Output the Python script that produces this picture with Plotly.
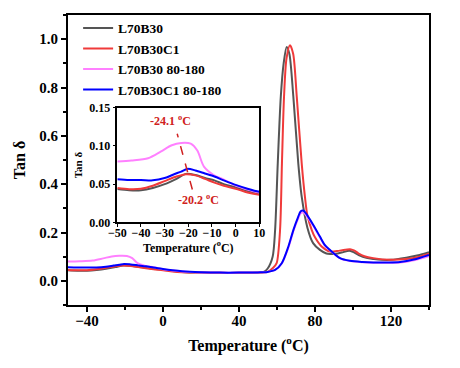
import plotly.graph_objects as go

# ---- data ----
series_names = ["L70B30", "L70B30C1", "L70B30 80-180", "L70B30C1 80-180"]
series_colors = ["#555555", "#f03a3a", "#ff80ff", "#0000ff"]

t_gray = [-50, -45, -40, -35, -30, -25, -21, -17, -13, -9, -5, 0, 5, 10, 20, 30, 40, 50, 53, 55,
          57.7, 59, 60.4, 62, 63.5, 65.1, 66.5, 68.6, 71.2, 73, 76, 79, 82.6, 86, 88, 91, 94, 98,
          100, 103, 107, 111, 115, 120, 128, 135, 140]
tan_gray = [0.0435, 0.042, 0.042, 0.045, 0.05, 0.057, 0.0635, 0.062, 0.058, 0.055, 0.050, 0.046,
            0.041, 0.037, 0.034, 0.033, 0.033, 0.034, 0.037, 0.05, 0.10, 0.21, 0.486, 0.762, 0.9,
            0.968, 0.94, 0.762, 0.486, 0.348, 0.22, 0.156, 0.128, 0.113, 0.111, 0.112, 0.117,
            0.125, 0.12, 0.107, 0.095, 0.09, 0.087, 0.087, 0.096, 0.107, 0.118]

t_red = [-50, -45, -40, -35, -30, -25, -21, -17, -13, -9, -5, 0, 5, 10, 20, 30, 40, 50, 55, 58,
         59.8, 61.6, 62.6, 63.7, 65, 66.8, 68.5, 70.4, 73, 74.7, 76, 78.3, 80, 83.5, 87.9, 93,
         98.4, 100.5, 102.8, 106, 110.7, 119.5, 128, 135, 140]
tan_red = [0.045, 0.0435, 0.044, 0.048, 0.054, 0.060, 0.063, 0.0615, 0.057, 0.052, 0.048, 0.044,
           0.039, 0.036, 0.034, 0.033, 0.033, 0.034, 0.037, 0.054, 0.073, 0.21, 0.486, 0.762,
           0.92, 0.975, 0.94, 0.762, 0.486, 0.348, 0.27, 0.21, 0.18, 0.142, 0.121, 0.125, 0.131,
           0.126, 0.114, 0.102, 0.094, 0.087, 0.09, 0.1, 0.112]

t_pink = [-50, -44, -37, -31.5, -27, -23, -19, -16.2, -13.4, -9.3, -5, 0, 5, 10, 20, 30, 40, 50,
          55, 59, 62.5, 66, 68.6, 71, 72.5, 74, 75.6, 79.1, 82.6, 85, 87.9, 93.2, 98.4, 105, 110.7,
          118, 124.8, 132, 140]
tan_pink = [0.0796, 0.081, 0.084, 0.093, 0.101, 0.104, 0.103, 0.094, 0.073, 0.062, 0.056, 0.048,
            0.043, 0.039, 0.035, 0.034, 0.034, 0.035, 0.037, 0.045, 0.072, 0.138, 0.205, 0.255,
            0.28, 0.282, 0.268, 0.228, 0.18, 0.148, 0.126, 0.093, 0.082, 0.077, 0.075, 0.075,
            0.076, 0.085, 0.102]

t_blue = [-50, -45, -40, -35, -30, -26, -23, -20.5, -17, -13, -9, -5, 0, 5, 10, 20, 30, 40, 50,
          55, 59, 62.5, 66, 68.6, 71, 72.5, 74, 75.6, 79.1, 82.6, 85, 87.9, 93.2, 98.4, 105, 110.7,
          118, 124.8, 132, 140]
tan_blue = [0.0565, 0.0555, 0.0555, 0.055, 0.058, 0.063, 0.0665, 0.070, 0.068, 0.064, 0.060,
            0.055, 0.049, 0.044, 0.040, 0.036, 0.034, 0.034, 0.035, 0.037, 0.045, 0.073, 0.142,
            0.21, 0.262, 0.288, 0.29, 0.275, 0.231, 0.183, 0.15, 0.128, 0.094, 0.083, 0.078,
            0.076, 0.076, 0.078, 0.088, 0.107]

series_t = [t_gray, t_red, t_pink, t_blue]
series_tan = [tan_gray, tan_red, tan_pink, tan_blue]

peak_labels = ["-24.1 <sup>o</sup>C", "-20.2 <sup>o</sup>C"]
arrow_from = (-18.3, 0.043)
arrow_to = (-25.2, 0.124)

FONT = "Liberation Serif"

fig = go.Figure()
for name, col, t, v in zip(series_names, series_colors, series_t, series_tan):
    fig.add_trace(go.Scatter(x=t, y=v, mode="lines", name=name,
                             line=dict(color=col, width=2, shape="spline", smoothing=0.8),
                             xaxis="x", yaxis="y"))
for name, col, t, v in zip(series_names, series_colors, series_t, series_tan):
    fig.add_trace(go.Scatter(x=t, y=v, mode="lines", name=name, showlegend=False,
                             line=dict(color=col, width=2, shape="spline", smoothing=0.8),
                             xaxis="x2", yaxis="y2"))

axis_common = dict(showgrid=False, zeroline=False, showline=True, linecolor="black",
                   mirror=True, ticks="outside", tickcolor="black")

fig.update_layout(
    width=460, height=368,
    margin=dict(l=68, r=31, t=15, b=63, autoexpand=False),
    paper_bgcolor="white", plot_bgcolor="white",
    font=dict(family=FONT, color="black", size=15, weight="bold"),
    showlegend=True,
    legend=dict(x=0.028, y=1.008, xanchor="left", yanchor="top",
                bgcolor="rgba(0,0,0,0)", font=dict(size=13.5, family=FONT, weight="bold"),
                tracegroupgap=0),
    xaxis=dict(axis_common, range=[-50, 140], tick0=0, dtick=40, linewidth=2, ticklen=5,
               tickwidth=1.5, minor=dict(dtick=20, ticklen=3, ticks="outside", tickcolor="black"),
               tickfont=dict(size=15, family=FONT, weight="bold"), ticklabelstandoff=-4,
               title=dict(text="Temperature (<sup>o</sup>C)", font=dict(size=16, family=FONT, weight="bold"),
                          standoff=12)),
    yaxis=dict(axis_common, range=[-0.1, 1.1], tick0=0, dtick=0.2, tickformat=".1f", linewidth=2,
               ticklen=5, tickwidth=1.5,
               minor=dict(dtick=0.1, ticklen=3, ticks="outside", tickcolor="black"),
               tickfont=dict(size=15, family=FONT, weight="bold"),
               title=dict(text="Tan δ", font=dict(size=16, family=FONT, weight="bold"), standoff=10)),
    xaxis2=dict(axis_common, domain=[0.1366, 0.530], anchor="y2", range=[-50, 10], dtick=10,
                linewidth=1.5, ticklen=3, ticklabelstandoff=-5,
                tickfont=dict(size=12, family=FONT, weight="bold"),
                title=dict(text="Temperature (<sup>o</sup>C)", font=dict(size=12, family=FONT, weight="bold"),
                           standoff=3)),
    yaxis2=dict(axis_common, domain=[0.285, 0.680], anchor="x2", range=[0, 0.15], dtick=0.05,
                tickformat=".2f", linewidth=1.5, ticklen=3,
                tickfont=dict(size=12, family=FONT, weight="bold"),
                title=dict(text="Tan δ", font=dict(size=11, family=FONT, weight="bold"), standoff=4)),
)

RED_TXT = "#d02020"
fig.add_shape(type="line", xref="x2", yref="y2",
              x0=arrow_from[0], y0=arrow_from[1], x1=arrow_to[0] + 0.5, y1=arrow_to[1] - 0.008,
              line=dict(color=RED_TXT, width=1.5, dash="dash"))
fig.add_annotation(xref="x2", yref="y2", axref="x2", ayref="y2",
                   x=arrow_to[0], y=arrow_to[1], ax=arrow_to[0] + 0.6, ay=arrow_to[1] - 0.01,
                   showarrow=True, arrowhead=2, arrowsize=1, arrowwidth=1.5, arrowcolor=RED_TXT,
                   text=" ")
fig.add_annotation(xref="x2", yref="y2", x=-27.7, y=0.133, text=peak_labels[0], showarrow=False,
                   font=dict(size=12, color=RED_TXT, family=FONT, weight="bold"))
fig.add_annotation(xref="x2", yref="y2", x=-15.9, y=0.030, text=peak_labels[1], showarrow=False,
                   font=dict(size=12, color=RED_TXT, family=FONT, weight="bold"))

fig.write_html("out.html", config={"displayModeBar": False},
               post_script="document.body.style.margin='0';")
